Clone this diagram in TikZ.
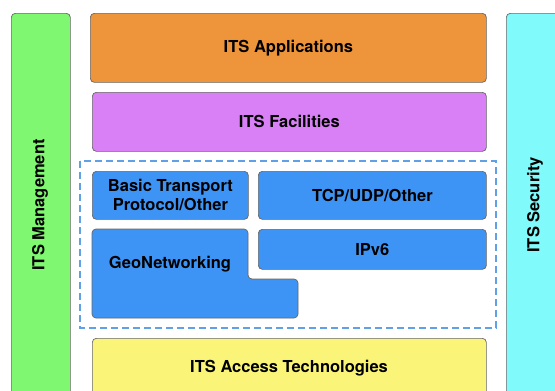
\documentclass[tikz,border=0pt]{standalone}
\usepackage{fontspec}
\setmainfont{TeX Gyre Heros}
\usetikzlibrary{positioning}

\definecolor{appcol}{RGB}{238,148,58}
\definecolor{faccol}{RGB}{218,128,246}
\definecolor{netcol}{RGB}{62,148,244}
\definecolor{acccol}{RGB}{250,245,120}
\definecolor{mgmtcol}{RGB}{128,247,112}
\definecolor{seccol}{RGB}{128,250,250}
\definecolor{dashcol}{RGB}{95,160,230}

\begin{document}
\begin{tikzpicture}[x=1pt,y=-1pt,font=\fontsize{16.5}{19}\selectfont\bfseries,
layer/.style={draw=black!60, line width=0.7pt, rounded corners=4pt, inner sep=0pt},
txt/.style={align=center, inner sep=0pt}]
\clip (0,0) rectangle (555,391);
\fill[white] (0,0) rectangle (555,391);

% side columns
\node[layer, fill=mgmtcol, anchor=north west, minimum width=59pt, minimum height=400pt] (mgmt) at (11,13) {};
\node[txt, rotate=90] (mgmtlbl) at (40,205) {ITS Management};
\node[layer, fill=seccol, anchor=north west, minimum width=60pt, minimum height=400pt] (sec) at (506,13) {};
\node[txt, rotate=90] (seclbl) at (535,205) {ITS Security};

% upper layers
\node[layer, fill=appcol, anchor=north west, minimum width=396pt, minimum height=69pt] (app) at (90,13) {ITS Applications};
\node[layer, fill=faccol, anchor=north west, minimum width=394pt, minimum height=59pt] (fac) at (92,92) {ITS Facilities};

% networking & transport
\draw[dashcol, line width=1.1pt, dash pattern=on 7pt off 4pt] (80,161) rectangle (496,328);
\node[layer, fill=netcol, anchor=north west, minimum width=156pt, minimum height=48pt, txt] (btp) at (92,171) {Basic Transport\\Protocol/Other};
\node[layer, fill=netcol, anchor=north west, minimum width=228pt, minimum height=48pt] (tcp) at (258,171) {TCP/UDP/Other};
\draw[layer, fill=netcol] (92,229) -- (248,229) -- (248,279) -- (298,279) -- (298,318) -- (92,318) -- cycle;
\node[txt] (geo) at (170,264) {GeoNetworking};
\node[layer, fill=netcol, anchor=north west, minimum width=228pt, minimum height=40pt] (ipv6) at (258,229) {IPv6};

% access layer
\node[layer, fill=acccol, anchor=north west, minimum width=394pt, minimum height=70pt] (acc) at (92,338) {};
\node[txt] (acclbl) at (289,368) {ITS Access Technologies};
\end{tikzpicture}
\end{document}
